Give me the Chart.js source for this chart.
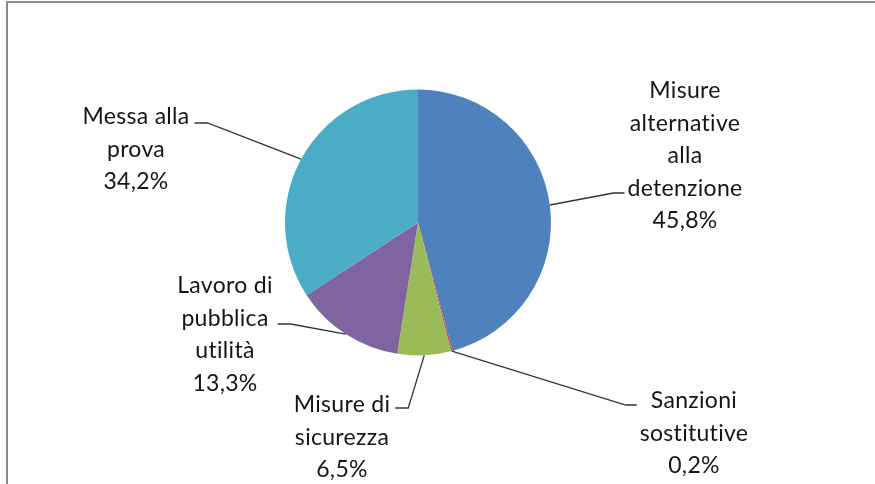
<!DOCTYPE html>
<html>
<head>
<meta charset="utf-8">
<script src="https://cdn.jsdelivr.net/npm/chart.js@4.4.1/dist/chart.umd.min.js"></script>
<style>
  html, body { margin: 0; padding: 0; background: #fff; }
  #wrap { position: relative; width: 875px; height: 484px; overflow: hidden; }
  #frame {
    position: absolute; left: 6px; top: 1px; width: 900px; height: 500px;
    border-left: 2px solid #8a8a8a; border-top: 2px solid #8a8a8a;
  }
  canvas { position: absolute; left: 0; top: 0; }
</style>
</head>
<body>
<div id="wrap">
  <div id="frame"></div>
  <canvas id="pieCanvas" width="875" height="484"></canvas>
</div>
<script>
const categories = [
  "Misure alternative alla detenzione",
  "Sanzioni sostitutive",
  "Misure di sicurezza",
  "Lavoro di pubblica utilità",
  "Messa alla prova",
];
const values = [45.8, 0.2, 6.5, 13.3, 34.2];
const labelLines = [
  ["Misure", "alternative", "alla", "detenzione"],
  ["Sanzioni", "sostitutive"],
  ["Misure di", "sicurezza"],
  ["Lavoro di", "pubblica", "utilità"],
  ["Messa alla", "prova"],
];
const colors = ["#4F81BD", "#C0504D", "#9BBB59", "#8064A2", "#4BACC6"];

// where each label sits (text centre x, first line y) and its leader tail
const labelLayout = [
  { cx: 685, y0: 91, side: "right", tailY: 193 },
  { cx: 694, y0: 401, side: "right", tailY: 405 },
  { cx: 342, y0: 405, side: "left", tailY: 408 },
  { cx: 225, y0: 286, side: "left", tailY: 324 },
  { cx: 136, y0: 117, side: "left", tailY: 123 },
];
const LINE_H = 32.5;
const FONT = "23px Lato";

const fmtPct = (v) => v.toFixed(1).replace(".", ",") + "%";

const pieLabels = {
  id: "pieLabels",
  afterDatasetsDraw(chart) {
    const ctx = chart.ctx;
    const arcs = chart.getDatasetMeta(0).data;
    ctx.save();
    ctx.font = FONT;
    ctx.letterSpacing = "0.3px"; // also stops the "ti" ligature
    ctx.textAlign = "center";
    ctx.textBaseline = "middle";
    arcs.forEach((arc, i) => {
      const lay = labelLayout[i];
      const lines = labelLines[i].concat([fmtPct(values[i])]);

      // leader line from the middle of the arc edge
      const mid = (arc.startAngle + arc.endAngle) / 2;
      const ex = arc.x + Math.cos(mid) * arc.outerRadius;
      const ey = arc.y + Math.sin(mid) * arc.outerRadius;
      const widest = Math.max(...lines.map((l) => ctx.measureText(l).width));
      let tx0, tx1;
      if (lay.side === "right") {
        const left = lay.cx - widest / 2;
        tx0 = left - 14; tx1 = left - 3;
      } else {
        const right = lay.cx + widest / 2;
        tx0 = right + 18; tx1 = right + 5;
      }
      ctx.strokeStyle = "#333";
      ctx.lineWidth = 1.3;
      ctx.beginPath();
      ctx.moveTo(ex, ey);
      ctx.lineTo(tx0, lay.tailY);
      ctx.lineTo(tx1, lay.tailY);
      ctx.stroke();

      ctx.fillStyle = "#151515";
      lines.forEach((l, k) => ctx.fillText(l, lay.cx, lay.y0 + k * LINE_H));
    });
    ctx.restore();
  },
};

new Chart(document.getElementById("pieCanvas"), {
  type: "pie",
  data: {
    labels: categories,
    datasets: [
      {
        data: values,
        backgroundColor: colors,
        borderWidth: 0,
      },
    ],
  },
  options: {
    responsive: false,
    animation: false,
    devicePixelRatio: 1,
    layout: { padding: { left: 285, right: 324, top: 89.5, bottom: 128.5 } },
    plugins: {
      legend: { display: false },
      tooltip: { enabled: false },
    },
  },
  plugins: [pieLabels],
});
</script>
</body>
</html>
